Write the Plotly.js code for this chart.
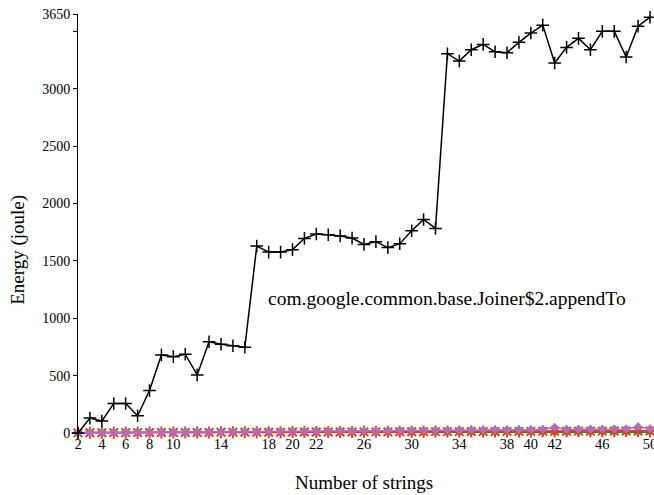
<!DOCTYPE html>
<html>
<head>
<meta charset="utf-8">
<script src="https://cdn.plot.ly/plotly-3.0.1.min.js"></script>
<style>html,body{margin:0;padding:0;background:#fff;}#chart{width:654px;height:495px;}</style>
</head>
<body>
<div id="chart"></div>
<script>
const strings = [2,3,4,5,6,7,8,9,10,11,12,13,14,15,16,17,18,19,20,21,22,23,24,25,26,27,28,29,30,31,32,33,34,35,36,37,38,39,40,41,42,43,44,45,46,47,48,49,50];
const joinerEnergy = [0,130,104,257,257,150,370,680,665,686,506,795,773,760,747,1628,1576,1576,1597,1695,1734,1727,1717,1698,1643,1667,1615,1649,1762,1860,1782,3304,3240,3339,3385,3321,3313,3403,3484,3553,3223,3359,3438,3339,3499,3499,3275,3544,3622];
const purpleEnergy = [2,4,5,6,6,7,7,8,8,9,9,10,10,11,12,12,13,14,14,15,16,17,17,18,19,20,20,21,22,23,23,24,25,26,26,27,28,29,29,30,50,31,32,33,33,34,35,55,36];
const redEnergy = [1,2,2,3,3,3,4,4,4,5,5,5,6,6,6,7,7,7,8,8,8,9,9,9,10,10,10,11,11,11,12,12,12,13,13,13,14,14,14,15,15,15,16,16,16,17,17,17,18];
const greenEnergy = [0,1,1,1,1,1,1,1,2,2,2,2,2,2,2,3,3,3,3,3,3,3,4,4,4,4,4,4,4,5,5,5,5,5,5,5,6,6,6,6,6,6,6,7,7,7,7,7,7];
const xTickVals = [2,4,6,8,10,14,18,20,22,26,30,34,38,40,42,46,50];
const yTickVals = [0,500,1000,1500,2000,2500,3000,3500,3650];
const yTickText = ['0','500','1000','1500','2000','2500','3000','','3650'];
const annotationText = 'com.google.common.base.Joiner$2.appendTo';
const xTitle = 'Number of strings';
const yTitle = 'Energy (joule)';

const serif = 'Liberation Serif, Times New Roman, serif';
const traces = [
  {x: strings, y: greenEnergy, mode: 'lines+markers', cliponaxis: false, line: {color: '#2e7d2e', width: 1.5},
   marker: {symbol: 'triangle-down', size: 8, color: '#2e7d2e'}, hoverinfo: 'skip'},
  {x: strings, y: redEnergy, mode: 'lines+markers', cliponaxis: false, line: {color: '#c0401e', width: 1.8},
   marker: {symbol: 'asterisk-open', size: 10, color: '#d0451f', line: {width: 2, color: '#d0451f'}}, hoverinfo: 'skip'},
  {x: strings, y: purpleEnergy, mode: 'lines+markers', cliponaxis: false, line: {color: '#b86ab8', width: 1.5},
   marker: {symbol: 'diamond', size: 7, color: '#b86ab8'}, hoverinfo: 'skip'},
  {x: strings, y: joinerEnergy, mode: 'lines+markers', cliponaxis: false, line: {color: '#000', width: 1.5},
   marker: {symbol: 'cross-thin-open', size: 9, color: '#000', line: {width: 1.5, color: '#000'}}, hoverinfo: 'skip'}
];
const layout = {
  width: 654, height: 495,
  margin: {l: 78, r: 4, t: 14, b: 62},
  paper_bgcolor: '#fff', plot_bgcolor: '#fff',
  showlegend: false,
  font: {family: serif, size: 14, color: '#000'},
  xaxis: {range: [2, 50], tickmode: 'array', tickvals: xTickVals, showgrid: false, zeroline: false,
    showline: false, ticks: '', ticklabeloverflow: 'allow', tickfont: {family: serif, size: 14.5, color: '#000'}},
  yaxis: {range: [0, 3650], tickmode: 'array', tickvals: yTickVals, ticktext: yTickText, showgrid: false,
    zeroline: false, showline: true, linecolor: '#000', linewidth: 1, ticks: 'outside', ticklen: 4,
    tickcolor: '#000', tickfont: {family: serif, size: 14, color: '#000'}},
  annotations: [
    {x: 32.96, y: 1174, xref: 'x', yref: 'y', text: annotationText, showarrow: false,
     xanchor: 'center', yanchor: 'middle', font: {family: serif, size: 19.5, color: '#000'}},
    {x: 0.5, y: -0.119, xref: 'paper', yref: 'paper', text: xTitle, showarrow: false,
     xanchor: 'center', yanchor: 'middle', font: {family: serif, size: 19, color: '#000'}},
    {x: -0.105, y: 0.437, xref: 'paper', yref: 'paper', text: yTitle, showarrow: false, textangle: -90,
     xanchor: 'center', yanchor: 'middle', font: {family: serif, size: 19, color: '#000'}}
  ]
};
Plotly.newPlot('chart', traces, layout, {displayModeBar: false, staticPlot: true});
</script>
</body>
</html>
